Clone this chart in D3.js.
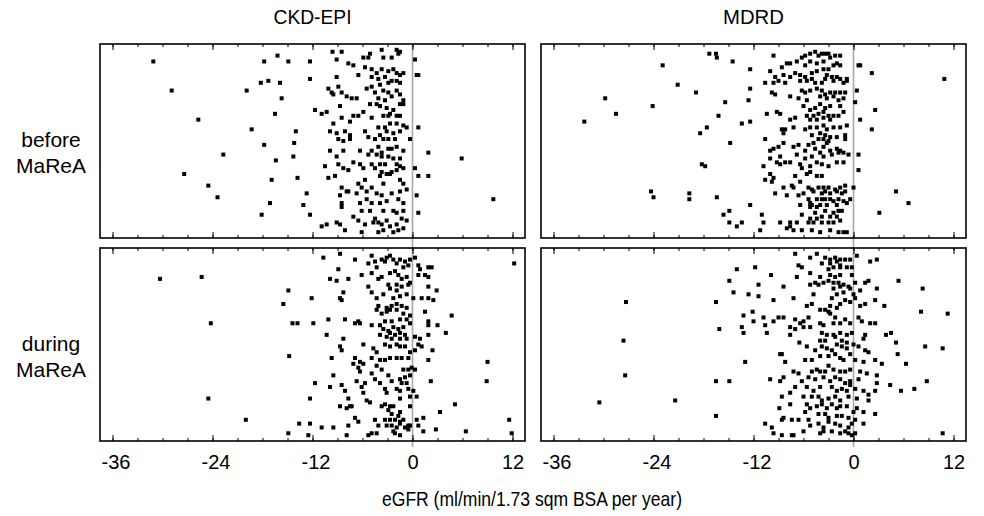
<!DOCTYPE html>
<html><head><meta charset="utf-8">
<script src="https://cdn.jsdelivr.net/npm/d3@7"></script>
<style>body{margin:0;background:#fff}svg{display:block}</style>
</head><body><svg id="c" width="984" height="516"></svg>
<script>
const methods = ["CKD-EPI", "MDRD"];
const periods = [["before", "MaReA"], ["during", "MaReA"]];
const majorTicks = [-36, -24, -12, 0, 12];
const minorTicks = [-36, -33, -30, -27, -24, -21, -18, -15, -12, -9, -6, -3, 0, 3, 6, 9, 12];
const xDomain = [-37.5, 13.5];
const axisTitle = "eGFR (ml/min/1.73 sqm BSA per year)";

// [eGFR slope, vertical jitter 0..1 from top]
const ckdBefore = [
[-31.1,.09],[-28.9,.24],[-25.7,.39],[-27.4,.67],[-22.7,.57],[-24.5,.73],[-23.4,.79],[-19.9,.24],[-19.3,.44],[-18.2,.20],[-17.3,.19],[-17.8,.09],[-16.2,.06],[-14.9,.09],[-15.9,.20],[-15.7,.28],[-16.5,.36],[-17.8,.52],[-16.4,.60],[-16.9,.70],[-17.1,.82],[-18.1,.88],[-14.0,.45],[-14.2,.51],[-14.3,.58],[-13.8,.69],
[5.9,.59],[9.7,.80],
[-9.6,.04],[-8.5,.04],[-5.1,.05],[-3.7,.03],[-1.9,.03],[-1.5,.04],[-1.7,.05],[-12.3,.09],[-9.1,.08],[-7.7,.10],[-7.1,.11],[-5.9,.07],[-5.3,.07],[-3.5,.07],[-2.5,.07],[0.3,.08],
[-5.7,.12],[-4.9,.13],[-4.3,.15],[-3.7,.13],[-2.9,.14],[-2.3,.13],[-1.9,.15],[-1.5,.16],[-1.1,.15],[0.5,.16],[0.7,.16],[-12.3,.18],[-9.1,.17],[-6.5,.16],[-4.9,.17],[-4.1,.18],[-3.3,.17],[-2.5,.19],[-2.9,.20],[-1.9,.19],[-1.5,.20],
[-10.1,.23],[-9.7,.25],[-8.9,.22],[-9.5,.26],[-8.5,.25],[-7.9,.27],[-7.3,.28],[-6.7,.28],[-5.5,.23],[-4.9,.22],[-3.9,.21],[-4.5,.25],[-3.5,.24],[-2.9,.25],[-1.9,.24],[-4.1,.28],[-3.3,.29],[-2.5,.27],[-1.5,.26],[-1.1,.29],
[-11.7,.34],[-10.9,.36],[-10.3,.35],[-8.7,.32],[-5.9,.35],[-5.1,.31],[-4.3,.31],[-3.9,.32],[-3.1,.33],[-2.7,.36],[-2.3,.34],[-1.5,.31],[-1.1,.31],[-7.1,.37],[-6.5,.37],[-3.5,.37],[-2.9,.37],[-1.9,.37],[-1.5,.37],
[-9.5,.41],[-8.5,.38],[-7.5,.40],[-4.9,.38],[-4.1,.43],[-3.3,.43],[-2.7,.41],[-1.9,.41],[-1.1,.42],[-0.7,.43],[-9.9,.45],[-9.1,.46],[-8.1,.45],[-7.5,.47],[-5.7,.45],[-5.3,.48],[-3.9,.47],[-3.1,.45],[-2.3,.46],[-1.5,.45],[0.7,.43],
[-8.9,.49],[-8.3,.50],[-7.5,.49],[-4.5,.49],[-3.5,.49],[-2.9,.49],[-2.1,.49],[-0.3,.49],[-9.9,.55],[-8.3,.55],[-6.3,.55],[-4.9,.55],[-4.1,.53],[-3.7,.56],[-2.9,.54],[-2.5,.54],[-1.9,.53],[-1.1,.55],[1.9,.56],
[-9.1,.58],[-5.3,.57],[-4.3,.57],[-3.7,.58],[-2.9,.58],[-2.3,.59],[-1.5,.59],[-10.5,.63],[-8.9,.62],[-8.3,.64],[-7.1,.61],[-6.3,.62],[-4.9,.62],[-3.9,.62],[-3.3,.62],[-1.9,.62],[-1.5,.63],
[-7.7,.65],[-5.9,.64],[-4.5,.64],[-3.7,.66],[-3.1,.67],[-2.5,.66],[-1.9,.65],[-1.1,.64],[0.3,.64],[0.7,.68],[1.9,.68],[-3.9,.68],[-2.7,.67],
[-10.1,.69],[-9.3,.68],[-8.5,.74],[-7.9,.76],[-6.5,.72],[-5.7,.70],[-4.9,.74],[-3.5,.72],[-1.5,.70],[-1.1,.72],[-12.7,.77],[-8.7,.78],[-7.7,.76],[-6.7,.77],[-6.1,.74],[-5.5,.76],[-4.3,.77],[-3.7,.78],[-2.5,.77],[-1.5,.76],[-0.7,.75],[0.5,.78],
[-8.5,.82],[-8.5,.84],[-6.3,.82],[-5.5,.80],[-4.9,.82],[-3.9,.82],[-3.1,.81],[-1.7,.80],[-1.1,.82],[-13.1,.83],[-6.1,.86],[-5.1,.86],[-3.5,.86],[-2.3,.86],[-1.9,.87],[-1.1,.86],[0.7,.87],[-12.3,.88],
[-7.1,.89],[-6.5,.91],[-4.5,.90],[-4.1,.92],[-3.1,.91],[-1.3,.90],[-0.7,.91],[-10.3,.93],[-9.1,.92],[-8.7,.93],[-10.9,.94],[-5.7,.93],[-4.7,.92],[-3.7,.93],[-2.7,.94],[-1.9,.93],[-1.1,.95],[-8.1,.96],[-6.1,.97],[-4.1,.97],[-3.5,.96],[-2.3,.97],[-1.7,.96]
];

const mdrdBefore = [
[-32.3,.40],[-29.8,.28],[-28.5,.36],[-24.1,.32],[-22.9,.11],[-21.1,.21],[-18.9,.25],[-17.3,.05],[-16.5,.05],[-16.4,.07],[-14.5,.09],[-15.4,.30],[-16.2,.37],[-17.6,.43],[-18.4,.46],[-14.8,.51],[-18.2,.62],[-17.8,.63],[-24.3,.76],[-24.0,.79],[-19.7,.77],[-19.7,.80],[-16.4,.79],[-15.6,.88],[-14.9,.86],[-14.9,.92],[-14.0,.94],[5.1,.76],[6.6,.82],[10.9,.18],
[-9.6,.06],[-6.2,.07],[-5.8,.06],[-5.2,.05],[-4.6,.04],[-4.2,.06],[-3.8,.05],[-3.4,.05],[-3.0,.05],[-2.8,.07],[-2.2,.06],[-1.6,.06],[-5.2,.09],[-4.4,.10],[-3.6,.09],[-2.4,.11],[-2.0,.10],[-1.6,.11],[-8.0,.10],[-7.6,.10],[-8.6,.12],[-6.8,.09],[-12.4,.13],[-10.0,.14],[-5.8,.11],[0.8,.11],[0.6,.11],
[-7.0,.15],[-6.4,.16],[-9.4,.17],[-8.4,.16],[-9.0,.19],[-7.6,.17],[-5.8,.17],[-5.0,.15],[-4.4,.14],[-3.6,.13],[-3.2,.16],[-3.0,.13],[-2.6,.17],[-2.0,.17],[-1.6,.18],[-0.8,.19],[-0.8,.18],[-10.6,.20],[-9.6,.20],[-8.2,.20],[-6.4,.19],[-5.6,.19],[-5.0,.18],[-4.6,.20],[-3.8,.20],[-3.4,.18],[-2.4,.19],[-1.2,.20],[2.2,.15],
[-12.4,.23],[-9.8,.25],[-9.4,.26],[-7.6,.27],[-6.2,.24],[-5.8,.25],[-5.2,.24],[-4.4,.23],[-3.8,.24],[-3.4,.26],[-2.8,.25],[-2.2,.25],[-1.6,.25],[-1.0,.25],[0.4,.24],[-12.6,.29],[-6.6,.28],[-5.6,.29],[-4.0,.27],[-3.2,.28],[-2.4,.27],[-1.8,.29],[-1.2,.28],[0.2,.30],
[-6.0,.32],[-5.2,.34],[-4.6,.33],[-4.0,.31],[-3.4,.33],[-2.8,.32],[-1.6,.32],[-1.2,.35],[-10.4,.36],[-9.2,.35],[-8.8,.36],[-5.6,.37],[-4.8,.37],[-4.2,.36],[-3.6,.35],[-3.0,.37],[-2.4,.37],[-1.8,.37],[2.6,.34],[-7.6,.39],[-7.0,.38],[-5.2,.39],[-4.4,.39],[-3.6,.38],[-2.8,.39],[-13.4,.41],[-12.4,.40],[0.8,.39],
[-8.6,.44],[-8.2,.44],[-7.2,.43],[-5.8,.44],[-5.2,.43],[-4.4,.43],[-3.6,.42],[-3.2,.44],[-2.4,.43],[-1.6,.43],[-0.8,.42],[-8.4,.46],[-5.0,.47],[-4.0,.46],[-3.4,.47],[-2.8,.48],[-2.0,.48],[-1.0,.47],[-1.0,.49],[2.2,.44],[-10.6,.49],[-4.2,.49],[-3.6,.49],[-3.0,.50],
[-10.0,.55],[-9.6,.54],[-9.0,.53],[-8.4,.51],[-7.2,.53],[-6.6,.52],[-5.8,.55],[-5.4,.52],[-4.8,.51],[-4.6,.54],[-3.6,.53],[-3.2,.51],[-2.8,.55],[-2.0,.54],[-1.6,.55],[-1.2,.56],[-0.6,.57],[0.6,.57],[-10.0,.59],[-8.8,.58],[-6.8,.57],[-5.8,.59],[-5.0,.58],[-4.0,.56],[-3.6,.58],[-2.6,.57],[-1.8,.56],
[-10.8,.63],[-9.2,.61],[-8.8,.62],[-8.2,.61],[-7.6,.61],[-6.4,.62],[-5.2,.63],[-4.4,.61],[-3.8,.62],[-3.0,.63],[-2.0,.61],[-1.2,.61],[0.6,.65],[-10.0,.67],[-7.0,.68],[-6.2,.64],[-5.6,.67],[-4.4,.68],[-3.8,.68],[-5.2,.66],
[-10.6,.70],[-9.8,.71],[-9.6,.69],[-8.4,.74],[-7.4,.73],[-7.2,.74],[-6.4,.71],[-5.4,.74],[-5.0,.75],[-4.2,.74],[-3.6,.74],[-3.0,.74],[-2.2,.75],[-1.6,.74],[-1.0,.73],[0.0,.74],[-9.4,.77],[-8.0,.78],[-6.6,.78],[-6.0,.77],[-4.8,.76],[-3.8,.77],[-3.4,.76],[-2.8,.77],[-2.0,.76],[-1.4,.77],[-1.0,.76],
[-5.4,.80],[-5.2,.82],[-5.0,.83],[-4.4,.80],[-3.8,.80],[-3.4,.80],[-2.8,.80],[-2.4,.81],[-1.8,.80],[-1.2,.81],[-0.4,.80],[-12.4,.83],[-6.4,.83],[-5.2,.84],[-4.4,.84],[-4.0,.83],[-3.2,.83],[-2.0,.83],[-0.8,.82],[-1.4,.86],[-4.6,.87],[-3.4,.86],[-2.4,.87],[-1.8,.86],[3.1,.87],
[-11.0,.88],[-6.2,.88],[-5.2,.90],[-4.4,.90],[-3.8,.89],[-2.8,.89],[-2.0,.89],[-1.6,.91],[-13.4,.92],[-10.8,.92],[-8.8,.92],[-7.6,.92],[-6.8,.92],[-5.4,.92],[-4.8,.92],[-3.8,.92],[-3.0,.92],[-2.4,.92],[-11.2,.96],[-8.0,.95],[-7.6,.94],[-7.2,.96],[-6.2,.96],[-5.0,.96],[-4.0,.97],[-2.8,.96],[-1.8,.97],[-1.2,.97],[-0.8,.97]
];

const ckdDuring = [
[-30.3,.16],[-25.3,.15],[-24.2,.39],[-24.5,.78],[-20.0,.89],[-14.9,.22],[-15.5,.29],[-14.4,.39],[-13.8,.39],[-14.8,.56],[-14.9,.96],[-13.6,.91],
[12.2,.08],[9.0,.59],[8.9,.69],[11.6,.89],[11.9,.96],[6.4,.95],[2.5,.27],[3.0,.40],[4.7,.35],[4.0,.44],[2.4,.53],[2.2,.69],[3.3,.85],[5.1,.81],[2.8,.94],[2.3,.10],[2.9,.22],
[-10.7,.05],[-8.7,.03],[-6.9,.06],[-4.9,.04],[-4.5,.07],[-3.7,.06],[-3.1,.05],[-2.7,.04],[-2.3,.06],[-1.5,.06],[-0.9,.07],[-0.3,.06],[0.3,.05],[0.7,.09],[-5.3,.08],[-4.3,.10],[-3.3,.07],[-1.9,.08],[-1.1,.10],[-0.5,.09],[0.9,.11],[1.9,.10],
[-6.1,.14],[-8.9,.11],[-9.9,.16],[-9.1,.17],[-7.7,.16],[-4.9,.13],[-4.1,.16],[-3.7,.15],[-2.7,.13],[-2.1,.12],[-1.7,.14],[-1.3,.16],[-0.7,.15],[-0.5,.19],[0.7,.14],[1.5,.14],[1.9,.15],[-2.9,.19],[-1.9,.19],[-1.3,.20],[-0.3,.18],[1.9,.20],
[-12.1,.26],[-8.7,.26],[-8.5,.27],[-8.3,.23],[-5.3,.20],[-4.9,.23],[-4.3,.26],[-3.5,.24],[-2.7,.21],[-1.9,.22],[-1.5,.25],[-0.7,.24],[0.1,.26],[1.1,.26],[1.9,.26],[-4.1,.30],[-3.1,.31],[-2.5,.30],[-1.9,.29],[-1.3,.30],[-0.7,.31],[-2.3,.26],
[-4.3,.32],[-3.7,.34],[-3.1,.33],[-2.7,.32],[-1.9,.32],[-1.1,.34],[-0.3,.35],[1.5,.33],[-11.9,.39],[-10.1,.37],[-8.1,.37],[-6.5,.38],[-6.3,.39],[-4.9,.40],[-3.9,.40],[-3.3,.38],[-2.5,.38],[-1.5,.37],[-0.7,.37],[-0.3,.39],[1.9,.38],[1.9,.40],
[-6.9,.39],[-3.5,.42],[-2.9,.43],[-2.3,.41],[-1.7,.42],[-1.1,.41],[-10.3,.45],[-8.3,.47],[-5.9,.50],[-2.7,.44],[-2.1,.45],[-1.5,.44],[-0.9,.45],[-3.1,.46],[-2.5,.47],[-1.5,.47],[-0.7,.47],[0.3,.46],[0.9,.47],[1.9,.45],[-3.9,.45],[0.7,.50],
[-8.7,.51],[-8.5,.53],[-4.7,.52],[-4.3,.54],[-3.3,.50],[-2.7,.51],[-1.9,.50],[-1.5,.51],[-0.9,.51],[-0.3,.54],[0.3,.53],[1.1,.51],[-9.7,.57],[-6.9,.57],[-6.3,.59],[-5.9,.60],[-4.9,.57],[-3.9,.58],[-3.3,.58],[-2.7,.57],[-1.9,.57],[-1.3,.57],[-0.5,.57],[1.9,.58],[-7.1,.60],
[-6.5,.62],[-4.3,.61],[-3.7,.63],[-1.1,.63],[-0.5,.63],[-0.1,.62],[-9.5,.66],[-6.3,.64],[-4.9,.65],[-4.5,.68],[-2.9,.66],[-2.5,.69],[-1.5,.68],[-0.9,.67],[-0.3,.66],[0.3,.63],[-11.7,.70],[-6.7,.69],[-5.7,.70],[-3.9,.70],[-1.3,.70],[-0.7,.70],
[-9.9,.72],[-8.5,.71],[-8.1,.74],[-6.1,.72],[-5.9,.75],[-3.3,.73],[-3.1,.75],[-1.9,.73],[-1.5,.74],[-0.5,.73],[0.1,.74],[-12.3,.78],[-7.7,.78],[-7.3,.82],[-5.5,.79],[-5.1,.80],[-3.7,.82],[-3.3,.81],[-2.7,.82],[-2.3,.82],[-1.5,.78],[-0.3,.77],[0.5,.77],[-8.7,.82],
[-7.9,.83],[-7.5,.82],[-2.9,.84],[-2.5,.86],[-1.7,.87],[-1.5,.85],[-0.3,.82],[-6.9,.88],[-4.5,.89],[-3.3,.89],[-2.7,.89],[-2.1,.89],[-1.5,.90],[-1.1,.89],[-0.5,.92],[0.5,.89],[1.3,.88],[-12.3,.91],
[-10.9,.93],[-9.5,.93],[-7.7,.92],[-6.5,.90],[-4.1,.92],[-3.1,.92],[-2.5,.92],[-1.9,.93],[-1.5,.91],[-0.9,.93],[-0.3,.92],[0.7,.92],[-12.5,.97],[-7.9,.97],[-5.3,.97],[-4.9,.96],[-4.3,.96],[-2.1,.96],[-1.5,.97],[-0.5,.94],[-2.3,.95],[1.3,.95]
];

const mdrdDuring = [
[-27.3,.28],[-27.6,.48],[-27.4,.66],[-30.5,.80],[-21.4,.79],[-16.5,.28],[-16.1,.42],[-16.5,.69],[-14.9,.69],[-16.5,.87],[-14.9,.17],[-14.0,.11],[-14.4,.23],
[5.4,.17],[8.3,.21],[8.1,.33],[11.3,.34],[4.5,.44],[3.9,.45],[5.1,.49],[8.6,.51],[10.7,.52],[5.3,.55],[6.3,.60],[3.4,.60],[8.8,.69],[4.4,.71],[5.7,.74],[7.3,.73],[10.7,.96],[3.7,.30],
[-7.0,.03],[-5.2,.05],[-4.4,.03],[-3.4,.05],[-2.8,.06],[-2.2,.05],[-1.6,.06],[-1.0,.06],[-0.4,.06],[-2.8,.08],[-2.0,.07],[-1.6,.09],[0.4,.04],[2.0,.07],[2.8,.06],[-11.8,.10],[-6.6,.09],[-6.2,.10],[-3.8,.08],[-3.0,.11],[-2.4,.10],[-1.6,.10],[-0.8,.10],[-0.2,.10],
[-9.9,.14],[-6.8,.15],[-5.2,.13],[-4.0,.15],[-2.8,.14],[-2.2,.15],[-1.6,.14],[-0.2,.14],[-4.6,.18],[-3.6,.18],[-3.0,.17],[-2.4,.18],[-1.8,.18],[-1.2,.19],[-0.6,.20],[0.2,.18],[1.4,.18],[1.8,.17],[-11.4,.19],[-8.4,.20],[-5.2,.19],[-4.2,.19],[-2.4,.21],[-1.6,.20],[-0.4,.21],[0.8,.22],
[-12.6,.24],[-11.4,.25],[-9.6,.27],[-7.2,.26],[-4.8,.24],[-2.6,.26],[-2.0,.24],[-1.2,.23],[0.0,.24],[0.2,.26],[2.8,.21],[-5.6,.30],[-5.0,.29],[-4.0,.32],[-3.4,.32],[-2.8,.30],[-2.0,.31],[-1.6,.29],[-1.0,.27],[-0.4,.28],[0.8,.30],[1.4,.29],[2.6,.27],
[-12.1,.33],[-13.2,.35],[-10.8,.36],[-9.6,.38],[-9.0,.36],[-8.4,.36],[-7.0,.37],[-6.4,.39],[-5.4,.36],[-4.0,.39],[-3.6,.40],[-2.8,.34],[-2.2,.36],[-1.6,.39],[-1.0,.37],[-0.4,.39],[0.6,.36],[1.0,.38],[2.0,.39],[2.6,.39],[-12.0,.38],[-10.6,.40],[-6.0,.38],[-3.0,.33],[-2.4,.39],
[-13.4,.41],[-13.2,.44],[-10.4,.44],[-7.6,.41],[-7.0,.42],[-6.0,.41],[-5.2,.41],[-3.8,.44],[-3.2,.45],[-2.4,.45],[-1.6,.44],[-0.8,.45],[-0.2,.44],[1.4,.45],[-7.6,.45],[-4.0,.48],[-3.4,.48],[-2.2,.46],[-1.4,.48],[-0.8,.49],[1.2,.47],[-6.5,.49],
[-5.6,.51],[-4.6,.53],[-3.8,.51],[-3.2,.52],[-2.6,.53],[-2.0,.50],[-1.4,.51],[-0.8,.52],[0.0,.50],[0.6,.51],[1.4,.53],[1.8,.54],[-8.8,.55],[-8.6,.55],[-4.0,.56],[-5.0,.58],[-3.0,.56],[-2.2,.55],[-1.6,.57],[-1.2,.58],[-0.4,.55],[0.2,.58],[1.2,.59],[-8.2,.59],[-5.8,.58],[-13.0,.59],[2.6,.58],
[-7.2,.64],[-6.6,.65],[-5.0,.64],[-4.4,.63],[-4.0,.64],[-3.4,.64],[-3.0,.61],[-2.4,.63],[-1.6,.64],[-1.0,.64],[-0.4,.63],[0.8,.64],[-10.0,.68],[-8.8,.69],[-8.4,.67],[-6.2,.69],[-5.4,.67],[-4.6,.68],[-3.6,.67],[-2.8,.69],[-2.2,.67],[-1.6,.68],[-1.0,.70],[-0.4,.69],[0.6,.68],[1.6,.65],[2.8,.66],[2.8,.70],
[-7.6,.75],[-7.0,.72],[-5.6,.72],[-4.8,.74],[-4.0,.72],[-2.6,.72],[-2.0,.74],[-1.4,.73],[-0.8,.74],[-0.4,.71],[0.2,.73],[1.2,.74],[1.8,.76],[2.6,.74],[-8.6,.77],[-6.0,.77],[-5.0,.77],[-4.2,.77],[-3.8,.79],[-3.0,.78],[-2.2,.77],[-1.6,.79],[-0.6,.77],[0.4,.78],[1.8,.79],
[-7.6,.81],[-5.6,.81],[-5.2,.83],[-4.4,.82],[-3.8,.81],[-3.2,.83],[-2.6,.81],[-2.0,.83],[-1.6,.82],[-0.8,.82],[0.4,.83],[-8.9,.83],[-8.6,.89],[-7.4,.89],[-5.8,.85],[-5.4,.89],[-4.2,.86],[-3.4,.86],[-3.0,.88],[-2.0,.87],[-1.4,.87],[-0.6,.88],[0.0,.85],[1.2,.85],[2.6,.86],
[-10.6,.91],[-9.8,.93],[-8.4,.88],[-6.6,.89],[-5.2,.92],[-4.2,.91],[-3.6,.93],[-3.0,.90],[-2.2,.91],[-1.6,.92],[-0.6,.93],[-0.2,.91],[0.2,.89],[1.2,.91],[-9.6,.96],[-8.6,.97],[-7.4,.97],[-7.2,.97],[-6.0,.95],[-4.0,.96],[-3.6,.95],[-2.6,.95],[-1.6,.96],[-1.0,.95],[-0.6,.96],[-0.2,.97],[0.2,.96]
];

const panelData = [[ckdBefore, mdrdBefore], [ckdDuring, mdrdDuring]];

// ---------- layout ----------
const FONT = '"Liberation Sans", Arial, Helvetica, sans-serif';
const colX = [100, 541], PW = 425;
const rowY = [44, 248], PH = [194, 193];
const svg = d3.select("#c");
svg.append("rect").attr("width", 984).attr("height", 516).attr("fill", "#fff");

const xs = colX.map(x0 => d3.scaleLinear().domain(xDomain).range([x0, x0 + PW]));
const ys = rowY.map((y0, i) => d3.scaleLinear().domain([0, 1]).range([y0, y0 + PH[i]]));

// zero reference lines
xs.forEach(x => {
  svg.append("line")
    .attr("x1", x(0)).attr("x2", x(0))
    .attr("y1", rowY[0]).attr("y2", rowY[1] + PH[1] + 6)
    .attr("stroke", "#a9a9a9").attr("stroke-width", 1.6);
});

function tickAxis(g, axis, vals, size) {
  g.call(axis.tickValues(vals).tickSize(-size).tickFormat(""));
  g.select(".domain").remove();
  g.selectAll(".tick line").attr("stroke", "#000").attr("stroke-width", 1);
}

for (let r = 0; r < 2; r++) {
  for (let c = 0; c < 2; c++) {
    const x = xs[c], y = ys[r];
    const y0 = rowY[r], y1 = rowY[r] + PH[r];
    const g = svg.append("g");
    tickAxis(g.append("g").attr("transform", `translate(0,${y0})`), d3.axisTop(x), minorTicks, 3);
    tickAxis(g.append("g").attr("transform", `translate(0,${y1})`), d3.axisBottom(x), minorTicks, 3);
    tickAxis(g.append("g").attr("transform", `translate(0,${y0})`), d3.axisTop(x), majorTicks, 6);
    tickAxis(g.append("g").attr("transform", `translate(0,${y1})`), d3.axisBottom(x), majorTicks, 6);

    g.selectAll("rect.pt").data(panelData[r][c]).join("rect")
      .attr("class", "pt")
      .attr("x", d => x(d[0]) - 2).attr("y", d => y(d[1]) - 2)
      .attr("width", 4).attr("height", 4).attr("fill", "#000");

    g.append("rect").attr("x", colX[c]).attr("y", y0).attr("width", PW).attr("height", PH[r])
      .attr("fill", "none").attr("stroke", "#000").attr("stroke-width", 1.6);

    if (r === 1) {
      const ax = g.append("g").attr("transform", `translate(0,${y1})`)
        .call(d3.axisBottom(x).tickValues(majorTicks).tickSize(0).tickFormat(d => String(d)));
      ax.select(".domain").remove();
      ax.attr("font-family", FONT).attr("font-size", 20);
      ax.selectAll("text").attr("y", 28).attr("dy", 0)
        .attr("dx", d => d < 0 ? 3 : 0).attr("fill", "#000")
        .attr("textLength", d => d < 0 ? 29 : null).attr("lengthAdjust", "spacingAndGlyphs");
    }
  }
}

// column titles
methods.forEach((m, c) => {
  svg.append("text").attr("x", colX[c] + PW / 2).attr("y", 24)
    .attr("text-anchor", "middle").attr("font-family", FONT).attr("font-size", 21)
    .attr("textLength", c === 0 ? 78 : 61).attr("lengthAdjust", "spacingAndGlyphs")
    .text(m);
});

// row labels
periods.forEach((p, r) => {
  const cy = rowY[r] + PH[r] / 2;
  p.forEach((s, i) => svg.append("text").attr("text-anchor", "middle")
    .attr("font-family", FONT).attr("font-size", 21)
    .attr("x", 51).attr("y", cy + 6 + i * 26).text(s));
});

// axis title
svg.append("text").attr("x", 532).attr("y", 506).attr("text-anchor", "middle")
  .attr("font-family", FONT).attr("font-size", 21)
  .attr("textLength", 300).attr("lengthAdjust", "spacingAndGlyphs")
  .text(axisTitle);
</script>
</body></html>
